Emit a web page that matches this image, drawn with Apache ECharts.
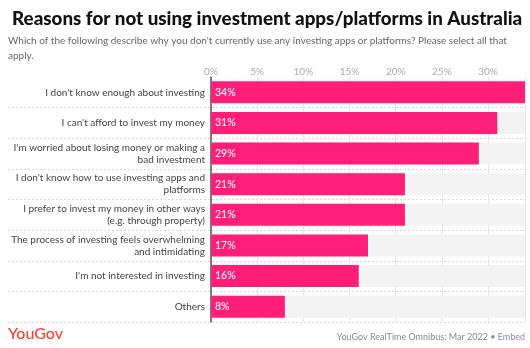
<!DOCTYPE html>
<html><head><meta charset="utf-8">
<script src="https://cdn.jsdelivr.net/npm/echarts@6/dist/echarts.min.js"></script>
<style>html,body{margin:0;padding:0;background:#fff}#c{width:530px;height:348px}</style>
</head><body><div id="c"></div>
<script>
const categories = [
  "I don't know enough about investing",
  "I can't afford to invest my money",
  "I'm worried about losing money or making a\nbad investment",
  "I don't know how to use investing apps and\nplatforms",
  "I prefer to invest my money in other ways\n(e.g. through property)",
  "The process of investing feels overwhelming\nand intimidating",
  "I'm not interested in investing",
  "Others"
];
const values = [34, 31, 29, 21, 21, 17, 16, 8];
const tickValues = [0, 5, 10, 15, 20, 25, 30];

const FONT = 'Lato';
const chart = echarts.init(document.getElementById('c'), null, {renderer: 'canvas'});
const gTop = 77, gBottom = 26;
chart.setOption({
  animation: false,
  textStyle: {fontFamily: FONT},
  title: [
    {text: 'Reasons for not using investment apps/platforms in Australia', left: 7, top: 4,
     textStyle: {fontFamily: FONT, fontSize: 18.8, fontWeight: 900, color: '#111'}},
    {text: "Which of the following describe why you don't currently use any investing apps or platforms? Please select all that\napply.",
     left: 8, top: 33, padding: 0, textStyle: {fontFamily: FONT, fontSize: 10, fontWeight: 400, color: '#666', lineHeight: 15}}
  ],
  grid: [
    {left: 211, right: 5, top: gTop, bottom: gBottom, containLabel: false, outerBoundsMode: 'none'},
    {left: 8, right: 5, top: gTop, bottom: gBottom, containLabel: false, outerBoundsMode: 'none'}
  ],
  xAxis: [
    {gridIndex: 0, type: 'value', min: 0, max: 34, interval: 5, position: 'top',
     axisLine: {show: false}, axisTick: {show: false},
     axisLabel: {formatter: v => tickValues.includes(v) ? v + '%' : '', color: '#aaa', fontSize: 10, margin: 0, showMaxLabel: false},
     splitLine: {show: true, lineStyle: {color: '#e6e6e6', width: 1}}},
    {gridIndex: 1, type: 'value', show: false, min: 0, max: 1}
  ],
  yAxis: [
    {gridIndex: 0, type: 'category', data: categories, inverse: true,
     axisLine: {show: true, lineStyle: {color: '#555', width: 1.5}}, axisTick: {show: false},
     axisLabel: {color: '#444', fontSize: 10, margin: 6, lineHeight: 12, align: 'right'},
     splitLine: {show: false}},
    {gridIndex: 1, type: 'category', data: categories, inverse: true,
     axisLine: {show: false}, axisTick: {show: false}, axisLabel: {show: false},
     splitLine: {show: true, interval: (i) => i > 0, lineStyle: {color: '#d8d8d8', type: [2, 2], width: 1}}}
  ],
  series: [{
    type: 'bar', xAxisIndex: 0, yAxisIndex: 0, data: values, barWidth: 22,
    itemStyle: {color: '#ff1f78'},
    showBackground: true, backgroundStyle: {color: '#f3f3f3'},
    label: {show: true, position: 'insideLeft', offset: [-1, 0], formatter: p => p.value + '%', color: '#fff', fontSize: 10.5, fontWeight: 500}
  }],
  graphic: [
    {type: 'text', left: 8, bottom: 6, style: {text: 'YouGov', font: '500 16px ' + FONT, fill: '#ff412c'}},
    {type: 'text', right: 5, bottom: 6, style: {
      rich: {a: {fontFamily: FONT, fontSize: 9, fill: '#888'}, b: {fontFamily: FONT, fontSize: 9, fill: '#8b80d8'}},
      text: '{a|YouGov RealTime Omnibus: Mar 2022 • }{b|Embed}'}}
  ]
});
</script></body></html>
